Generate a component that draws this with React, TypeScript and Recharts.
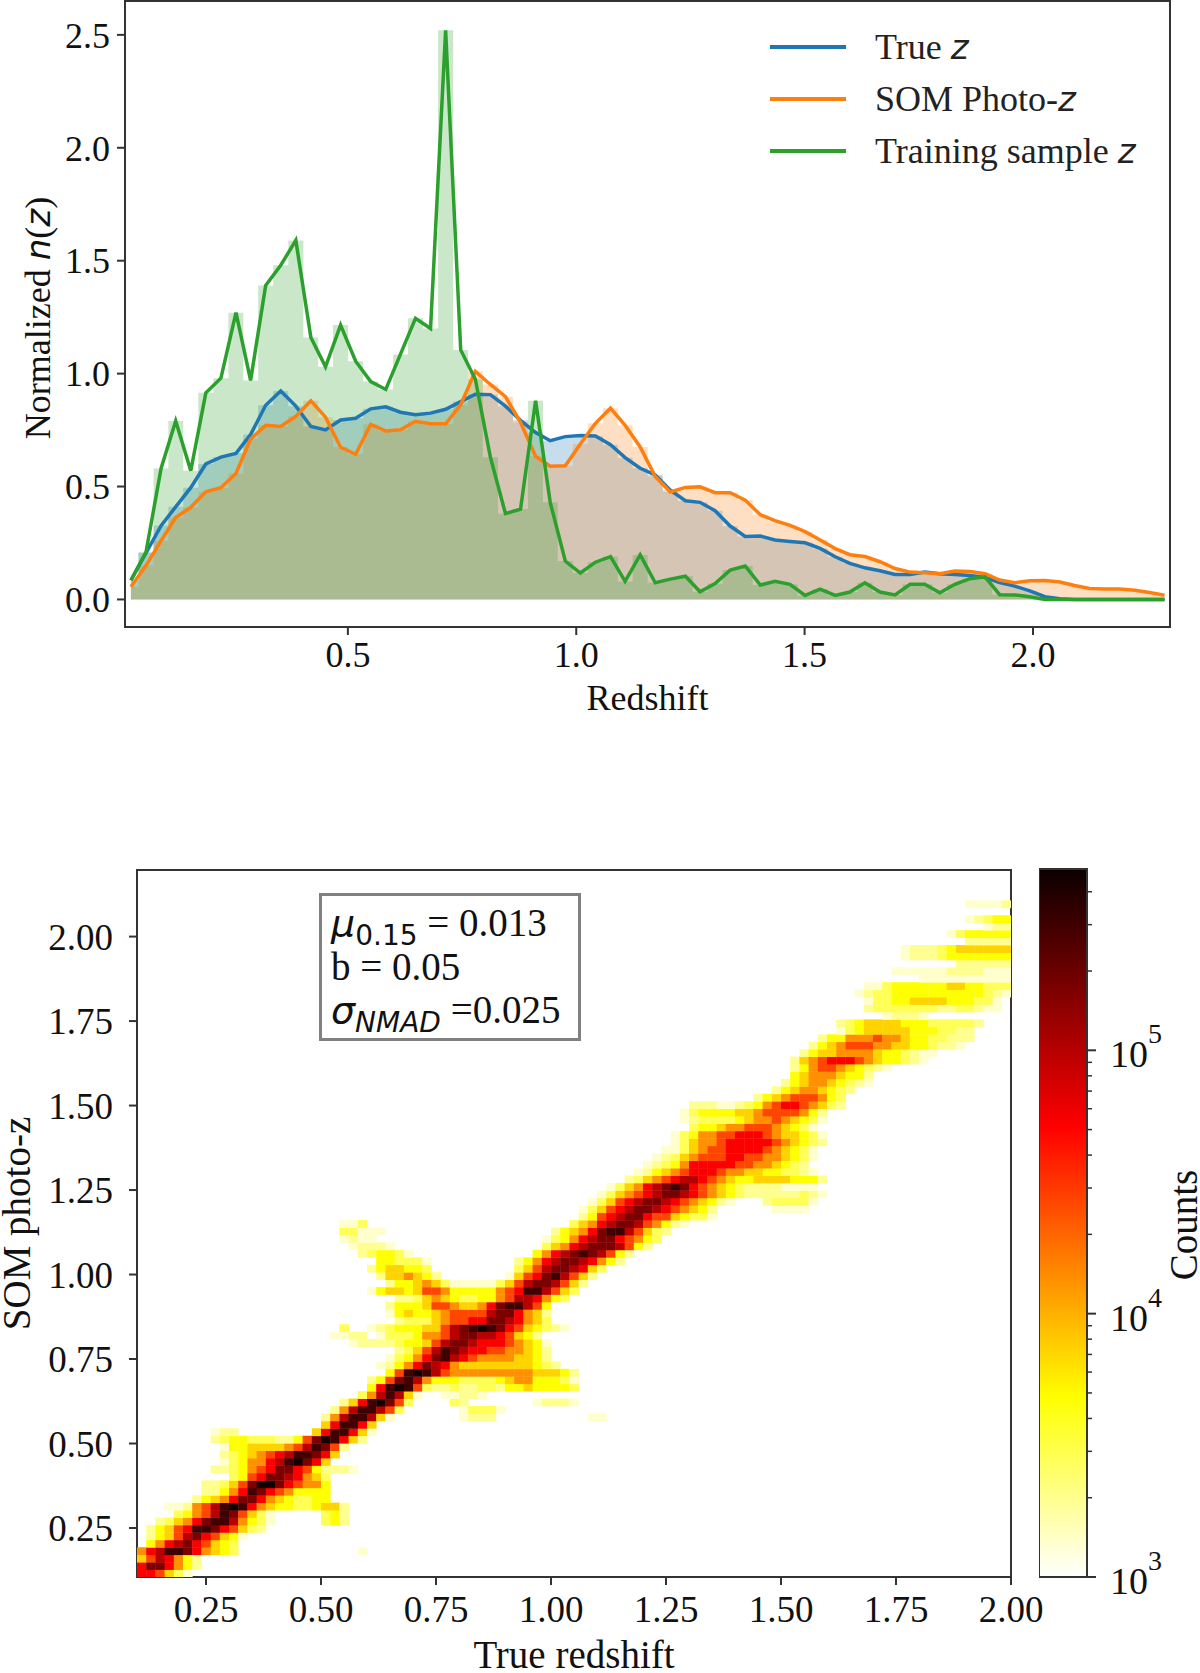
import React from 'react';
import {
  Area, ComposedChart, Legend, Line, ReferenceArea, Scatter, ScatterChart, XAxis, YAxis,
} from 'recharts';

// top panel: normalized n(z)
const zCenters = [
  0.025, 0.058, 0.091, 0.123, 0.156, 0.189, 0.222, 0.255, 0.287, 0.32, 0.353, 0.386, 0.419, 0.451,
  0.484, 0.517, 0.55, 0.583, 0.615, 0.648, 0.681, 0.714, 0.747, 0.779, 0.812, 0.845, 0.878, 0.911,
  0.943, 0.976, 1.009, 1.042, 1.075, 1.107, 1.14, 1.173, 1.206, 1.239, 1.271, 1.304, 1.337, 1.37,
  1.403, 1.435, 1.468, 1.501, 1.534, 1.567, 1.599, 1.632, 1.665, 1.698, 1.731, 1.763, 1.796, 1.829,
  1.862, 1.895, 1.927, 1.96, 1.993, 2.026, 2.059, 2.091, 2.124, 2.157, 2.19, 2.223, 2.255, 2.288,
];
const trueZ = [
  0.085, 0.206, 0.327, 0.41, 0.495, 0.6, 0.63, 0.647, 0.73, 0.86, 0.923, 0.856, 0.766, 0.751,
  0.795, 0.802, 0.844, 0.853, 0.829, 0.818, 0.825, 0.842, 0.876, 0.909, 0.907, 0.856, 0.793, 0.739,
  0.703, 0.721, 0.726, 0.724, 0.685, 0.628, 0.581, 0.551, 0.484, 0.437, 0.43, 0.393, 0.325, 0.279,
  0.281, 0.263, 0.257, 0.251, 0.226, 0.189, 0.16, 0.14, 0.127, 0.111, 0.111, 0.121, 0.114, 0.111,
  0.106, 0.097, 0.075, 0.059, 0.038, 0.012, 0.003, 0, 0, 0, 0, 0, 0, 0,
];
const somZ = [
  0.056, 0.15, 0.26, 0.363, 0.408, 0.477, 0.495, 0.558, 0.71, 0.771, 0.766, 0.811, 0.88, 0.807,
  0.674, 0.643, 0.775, 0.746, 0.751, 0.789, 0.778, 0.778, 0.862, 1.01, 0.952, 0.898, 0.784, 0.634,
  0.59, 0.592, 0.688, 0.78, 0.847, 0.771, 0.675, 0.544, 0.476, 0.496, 0.499, 0.473, 0.473, 0.44,
  0.375, 0.349, 0.328, 0.3, 0.263, 0.225, 0.198, 0.19, 0.167, 0.137, 0.121, 0.118, 0.114, 0.126,
  0.124, 0.114, 0.086, 0.074, 0.083, 0.084, 0.077, 0.062, 0.049, 0.046, 0.046, 0.041, 0.031, 0.019,
];
const trainZ = [
  0.085, 0.21, 0.58, 0.79, 0.57, 0.915, 0.98, 1.27, 0.97, 1.39, 1.48, 1.59, 1.16, 1.03,
  1.215, 1.055, 0.965, 0.93, 1.085, 1.245, 1.2, 2.52, 1.105, 0.975, 0.63, 0.38, 0.4, 0.88,
  0.43, 0.17, 0.117, 0.165, 0.19, 0.08, 0.197, 0.074, 0.09, 0.103, 0.034, 0.07, 0.13, 0.148,
  0.064, 0.08, 0.067, 0.018, 0.046, 0.018, 0.033, 0.074, 0.033, 0.02, 0.067, 0.067, 0.03, 0.067,
  0.092, 0.1, 0.021, 0.02, 0.012, 0, 0, 0, 0, 0, 0, 0, 0, 0,
];
const nzXTicks = [0.5, 1, 1.5, 2];
const nzYTicks = [0, 0.5, 1, 1.5, 2, 2.5];
const nzXDomain = [0.012, 2.3];
const nzYDomain = [-0.122, 2.65];

// bottom panel: 95 x 95 bins, one entry per row from the bottom, "firstColumn:levels" per run
const binWidth = 0.02;
const binHeight = 0.022;
const xStart = 0.1;
const yStart = 0.105;
const levelCounts = [1360, 1980, 2860, 4700, 7250, 13500, 26600, 52500, 97500, 170000, 297000, 450000];
const levelChars = '123456789abc';
const heatRows = [
  '0:887531',
  '0:8aa8642',
  '0:5798642',
  '0:689bba86543 24:1',
  '1:4689a87543',
  '1:24579a87541',
  '1:24578bba87532',
  '2:23568abb96431 20:342',
  '4:34679ba7531 20:342',
  '3:112679bcb86544334552',
  '6:24568aa86543344',
  '7:22468ba8764444',
  '7:22357acca87664',
  '10:3478aa98653',
  '8:2234678aa8742221',
  '9:1346689bca85',
  '9:23456789bba85',
  '9:1445555679ba72',
  '8:23443332247acb852',
  '8:122 19:58bb851',
  '20:58bb85',
  '20:269bb951 35:1222 49:11',
  '21:269bb973 35:13331',
  '22:258bca73 34:32 43:12221',
  '24:369b951 33:11221',
  '25:48bcb732232233244544443',
  '25:247ab964443333456644431',
  '27:47bcb9766666666655542',
  '26:12468a98655555555432',
  '27:13468ab98766665542',
  '28:23579ba9887766542',
  '23:12222344579aa988876541',
  '21:1122 26:133346679aa9987542',
  '22:3 25:1234445579abcba8754321',
  '28:2333567788aa98653',
  '27:145445677779aa8652',
  '27:244457765568abb974',
  '28:2235654334467998643',
  '25:14554577644444678bb9753',
  '27:2445653111113579aa9752',
  '26:2556542 40:1578ab9752',
  '25:2455443 41:3579aa9853',
  '26:443331 41:24689aa98642',
  '24:234431 43:4689aba9742',
  '23:12221 44:35689aaa9742',
  '22:1211 44:134689aa87643',
  '22:33111 45:24568abb97532',
  '22:113 47:35689aa976421',
  '48:24789aa87754331',
  '48:135789aa9876542 69:1111',
  '49:135789aa98765421 68:233331',
  '50:1356789aa9876543222222321',
  '51:135689aba87654322221111',
  '53:2356789987654455554442',
  '54:12456788876655443321',
  '55:123468888877665432',
  '56:123567778877665431',
  '57:11356778888765431',
  '58:13566788888765432',
  '58:13466778887655431',
  '60:34456677765431',
  '59:1233334566765431',
  '59:1344445567777642',
  '60:22211234678876532',
  '67:2456777643',
  '69:245665432',
  '70:2456654321',
  '71:456665442',
  '71:24677654321',
  '71:256788876544321',
  '72:245566665443211',
  '73:24567776655443221',
  '74:24466676654433222',
  '76:134555554443322',
  '76:2345555444333332',
  '81:12221',
  '79:233333332233211',
  '79:133445555444331',
  '78:12334444444444321',
  '79:1134444445544333',
  '85:1111111111',
  '82:1111112222111',
  '89:222222',
  '83:122234444444',
  '83:122234555555',
  '90:22222',
  '88:1344444',
  '92:122',
  '90:12344',
  '',
  '90:11112',
];
const heatXTicks = [0.25, 0.5, 0.75, 1, 1.25, 1.5, 1.75, 2];
const heatYTicks = [0.25, 0.5, 0.75, 1, 1.25, 1.5, 1.75, 2];
const heatXDomain = [0.1, 2];
const heatYDomain = [0.105, 2.197];
const colorbarTicks = [
  1000, 2000, 3000, 4000, 5000, 6000, 7000, 8000, 9000, 10000,
  20000, 30000, 40000, 50000, 60000, 70000, 80000, 90000, 100000,
  200000, 300000, 400000,
];
const countMin = 1000;
const countMax = 488000;

const SERIF = '"Liberation Serif", serif';
const MATH = '"DejaVu Sans", sans-serif';
const AXIS = '#333333';
const BLUE = '#1f77b4';
const ORANGE = '#ff7f0e';
const GREEN = '#2ca02c';

const nzData = zCenters.map((z, i) => ({ z, trueZ: trueZ[i], somZ: somZ[i], trainZ: trainZ[i] }));

const heatData = heatRows.flatMap((row, r) =>
  row.split(' ').filter(Boolean).flatMap((run) => {
    const [first, levels] = run.split(':');
    return levels.split('').map((ch, k) => ({
      x: xStart + (Number(first) + k + 0.5) * binWidth,
      y: yStart + (r + 0.5) * binHeight,
      count: levelCounts[levelChars.indexOf(ch)],
    }));
  }),
);

const colorbarData = [{ x: 0, c: countMin }, { x: 1, c: countMax }];

// matplotlib hot_r
const hotR = (t: number) => {
  const s = 1 - Math.min(1, Math.max(0, t));
  const r = Math.min(1, 0.0416 + (s / 0.365) * 0.9584);
  const g = Math.min(1, Math.max(0, (s - 0.365) / 0.381));
  const b = Math.min(1, Math.max(0, (s - 0.746) / 0.254));
  return `rgb(${Math.round(r * 255)},${Math.round(g * 255)},${Math.round(b * 255)})`;
};
const countColor = (c: number) => hotR(Math.log(c / countMin) / Math.log(countMax / countMin));

const HeatCell = (props: any) => {
  const { cx, cy, payload } = props;
  const w = 9.2;
  const h = 7.43;
  return <rect x={cx - w / 2} y={cy - h / 2} width={w + 0.4} height={h + 0.4} fill={countColor(payload.count)} />;
};

const tickStyle = (size: number) => ({ fontSize: size, fontFamily: SERIF, fill: '#111' });
const axisLine = { stroke: AXIS, strokeWidth: 2 };
const tickLine = { stroke: AXIS, strokeWidth: 2 };

const NzLegend = ({ payload }: any) => (
  <div style={{ fontFamily: SERIF, fontSize: 36, color: '#222' }}>
    {(payload || []).filter((p: any) => p.type !== 'none').map((p: any) => (
      <div key={p.value} style={{ display: 'flex', alignItems: 'center', height: 52 }}>
        <span style={{ width: 76, height: 4, background: p.color, marginRight: 29 }} />
        <span style={{ whiteSpace: 'pre' }}>
          {p.value}
          <span style={{ fontFamily: MATH, fontStyle: 'italic', fontSize: 34 }}>z</span>
        </span>
      </div>
    ))}
  </div>
);

const NzYLabel = () => (
  <text transform="translate(50,318) rotate(-90)" textAnchor="middle" fontFamily={SERIF} fontSize={36} fill="#111">
    Normalized <tspan fontFamily={MATH} fontStyle="italic" fontSize={34}>n</tspan>
    <tspan>(</tspan>
    <tspan fontFamily={MATH} fontStyle="italic" fontSize={34}>z</tspan>
    <tspan>)</tspan>
  </text>
);

const ColorbarTick = (props: any) => {
  const { x, y, payload } = props;
  const v = payload.value as number;
  const exp = Math.log10(v);
  const major = Math.abs(exp - Math.round(exp)) < 1e-6;
  return (
    <g>
      <line x1={x} x2={x + (major ? 9 : 5)} y1={y} y2={y} stroke={AXIS} strokeWidth={major ? 2 : 1.5} />
      {major && (
        <text x={x + 23} y={y + 17} fontFamily={SERIF} fontSize={38} fill="#111">
          10<tspan fontSize={28} dy={-24}>{Math.round(exp)}</tspan>
        </text>
      )}
    </g>
  );
};

const StatBox = () => (
  <div
    style={{
      position: 'absolute', left: 319, top: 893, width: 262, height: 148, boxSizing: 'border-box',
      border: '3px solid #808080', background: '#fff', fontFamily: SERIF, fontSize: 39, color: '#111',
      padding: '5px 0 0 9px', lineHeight: '43px', whiteSpace: 'pre',
    }}
  >
    <div>
      <span style={{ fontFamily: MATH, fontStyle: 'italic', fontSize: 38 }}>μ</span>
      <sub style={{ fontFamily: MATH, fontSize: 28, lineHeight: 0 }}>0.15</sub> = 0.013
    </div>
    <div>b = 0.05</div>
    <div>
      <span style={{ fontFamily: MATH, fontStyle: 'italic', fontSize: 38 }}>σ</span>
      <sub style={{ fontFamily: MATH, fontStyle: 'italic', fontSize: 28, lineHeight: 0 }}>NMAD</sub> =0.025
    </div>
  </div>
);

const NzChart = () => (
  <ComposedChart
    width={1200}
    height={730}
    data={nzData}
    margin={{ top: 1, right: 30, bottom: 30, left: 0 }}
    style={{ position: 'absolute', left: 0, top: 0 }}
  >
    <XAxis
      type="number"
      dataKey="z"
      domain={nzXDomain}
      ticks={nzXTicks}
      allowDataOverflow
      height={73}
      tick={tickStyle(36)}
      tickFormatter={(v) => v.toFixed(1)}
      tickSize={8}
      tickMargin={6}
      axisLine={axisLine}
      tickLine={tickLine}
      label={{ value: 'Redshift', position: 'insideBottom', offset: -10, fontSize: 36, fontFamily: SERIF, fill: '#111' }}
    />
    <YAxis
      domain={nzYDomain}
      ticks={nzYTicks}
      allowDataOverflow
      width={125}
      tick={tickStyle(36)}
      tickFormatter={(v) => v.toFixed(1)}
      tickSize={8}
      tickMargin={7}
      axisLine={axisLine}
      tickLine={tickLine}
    />
    <Area type="step" dataKey="trueZ" baseValue={0} fill={BLUE} fillOpacity={0.25} stroke="none" legendType="none" isAnimationActive={false} />
    <Area type="step" dataKey="somZ" baseValue={0} fill={ORANGE} fillOpacity={0.25} stroke="none" legendType="none" isAnimationActive={false} />
    <Area type="step" dataKey="trainZ" baseValue={0} fill={GREEN} fillOpacity={0.25} stroke="none" legendType="none" isAnimationActive={false} />
    <Line type="linear" dataKey="trueZ" name="True " stroke={BLUE} strokeWidth={3.5} dot={false} isAnimationActive={false} />
    <Line type="linear" dataKey="somZ" name="SOM Photo-" stroke={ORANGE} strokeWidth={3.5} dot={false} isAnimationActive={false} />
    <Line type="linear" dataKey="trainZ" name="Training sample " stroke={GREEN} strokeWidth={3.5} dot={false} isAnimationActive={false} />
    <ReferenceArea x1={nzXDomain[0]} x2={nzXDomain[1]} y1={nzYDomain[0]} y2={nzYDomain[1]} fill="none" stroke={AXIS} strokeWidth={2} />
    <Legend
      content={<NzLegend />}
      itemSorter={null}
      layout="vertical"
      align="center"
      verticalAlign="middle"
      wrapperStyle={{ left: 770, top: 21, width: 400 }}
    />
  </ComposedChart>
);

const HeatChart = () => (
  <ScatterChart
    width={1200}
    height={873}
    margin={{ top: 70, right: 189, bottom: 0, left: 0 }}
    style={{ position: 'absolute', left: 0, top: 800 }}
  >
    <XAxis
      type="number"
      dataKey="x"
      domain={heatXDomain}
      ticks={heatXTicks}
      allowDataOverflow
      height={96}
      tick={tickStyle(37)}
      tickFormatter={(v) => v.toFixed(2)}
      tickSize={8}
      tickMargin={11}
      axisLine={axisLine}
      tickLine={tickLine}
      label={{ value: 'True redshift', position: 'insideBottom', offset: 5, fontSize: 39, fontFamily: SERIF, fill: '#111' }}
    />
    <YAxis
      type="number"
      dataKey="y"
      domain={heatYDomain}
      ticks={heatYTicks}
      allowDataOverflow
      width={137}
      tick={tickStyle(37)}
      tickFormatter={(v) => v.toFixed(2)}
      tickSize={8}
      tickMargin={16}
      axisLine={axisLine}
      tickLine={tickLine}
      label={{ value: 'SOM photo-z', angle: -90, position: 'insideLeft', offset: 16, fontSize: 39, fontFamily: SERIF, fill: '#111', style: { textAnchor: 'middle' } }}
    />
    <Scatter data={heatData} shape={<HeatCell />} isAnimationActive={false} />
    <ReferenceArea x1={heatXDomain[0]} x2={heatXDomain[1]} y1={heatYDomain[0]} y2={heatYDomain[1]} fill="none" stroke={AXIS} strokeWidth={2} />
  </ScatterChart>
);

const Colorbar = () => (
  <ComposedChart
    width={161}
    height={873}
    data={colorbarData}
    margin={{ top: 69, right: 0, bottom: 96, left: 0 }}
    style={{ position: 'absolute', left: 1039, top: 800 }}
  >
    <defs>
      <linearGradient id="hotR" x1="0" y1="1" x2="0" y2="0">
        <stop offset="0" stopColor="#ffffff" />
        <stop offset="0.254" stopColor="#ffff00" />
        <stop offset="0.635" stopColor="#ff0000" />
        <stop offset="1" stopColor="#0b0000" />
      </linearGradient>
    </defs>
    <XAxis type="number" dataKey="x" domain={[0, 1]} height={0} hide />
    <YAxis
      yAxisId="counts"
      orientation="right"
      scale="log"
      type="number"
      domain={[countMin, countMax]}
      ticks={colorbarTicks}
      interval={0}
      allowDataOverflow
      width={113}
      tick={<ColorbarTick />}
      tickSize={0}
      tickMargin={0}
      axisLine={axisLine}
      tickLine={false}
    />
    <Line yAxisId="counts" dataKey="c" stroke="none" dot={false} isAnimationActive={false} />
    <ReferenceArea yAxisId="counts" x1={0} x2={1} y1={countMin} y2={countMax} fill="url(#hotR)" fillOpacity={1} stroke={AXIS} strokeWidth={2} />
  </ComposedChart>
);

export default function App() {
  return (
    <div style={{ position: 'absolute', left: 0, top: 0, width: 1200, height: 1673, background: '#fff', overflow: 'hidden' }}>
      <NzChart />
      <svg width={60} height={640} style={{ position: 'absolute', left: 0, top: 0 }}><NzYLabel /></svg>
      <HeatChart />
      <StatBox />
      <Colorbar />
      <svg width={60} height={300} style={{ position: 'absolute', left: 1140, top: 1080 }}>
        <text transform="translate(57,145) rotate(-90)" textAnchor="middle" fontFamily={SERIF} fontSize={39} fill="#111">Counts</text>
      </svg>
    </div>
  );
}
